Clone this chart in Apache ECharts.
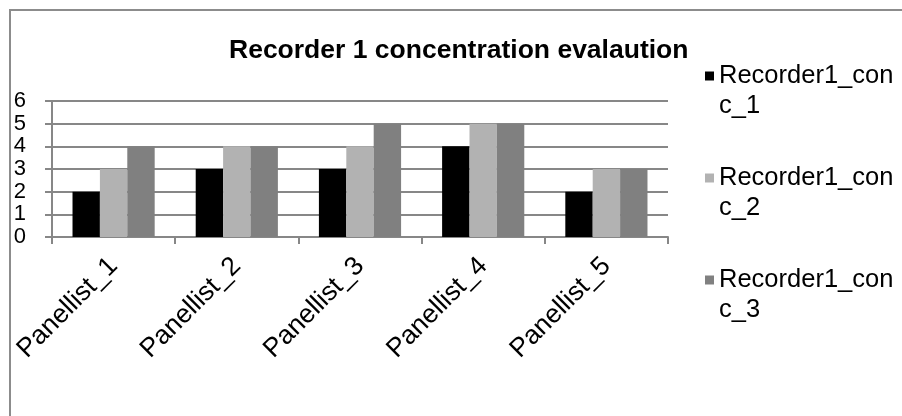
<!DOCTYPE html>
<html>
<head>
<meta charset="utf-8">
<script src="https://cdn.jsdelivr.net/npm/echarts@6/dist/echarts.min.js"></script>
<style>
  html, body { margin: 0; padding: 0; background: #fff; }
  #chart { width: 902px; height: 416px; }
</style>
</head>
<body>
<div id="chart"></div>
<script>
// Panellist scores per recorder concentration
const categories = ['Panellist_1', 'Panellist_2', 'Panellist_3', 'Panellist_4', 'Panellist_5'];
const seriesNames = ['Recorder1_conc_1', 'Recorder1_conc_2', 'Recorder1_conc_3'];
const conc1 = [2, 3, 3, 4, 2];
const conc2 = [3, 4, 4, 5, 3];
const conc3 = [4, 4, 5, 5, 3];
const yTicks = [0, 1, 2, 3, 4, 5, 6];

const colors = ['#000000', '#b2b2b2', '#808080'];
const font = 'Liberation Sans, Arial, sans-serif';
const values = [conc1, conc2, conc3];

const chart = echarts.init(document.getElementById('chart'), null, { renderer: 'canvas' });

chart.setOption({
  animation: false,
  backgroundColor: '#ffffff',
  color: colors,
  title: {
    text: 'Recorder 1 concentration evalaution',
    left: 229,
    top: 37,
    padding: 0,
    textStyle: { fontFamily: font, fontSize: 26.5, fontWeight: 'bold', color: '#000' }
  },
  legend: {
    orient: 'vertical',
    left: 705,
    top: 31,
    padding: 0,
    itemWidth: 9,
    itemHeight: 9,
    itemGap: 12,
    icon: 'rect',
    // wrap each name over two lines; the leading blank line keeps the
    // square marker level with the first line of text
    formatter: name => '\n' + name.slice(0, 13) + '\n' + name.slice(13),
    textStyle: { fontFamily: font, fontSize: 25.5, color: '#000', lineHeight: 30 }
  },
  grid: { left: 52, right: 234, top: 101, bottom: 179, containLabel: false },
  xAxis: {
    type: 'category',
    data: categories,
    axisLine: { lineStyle: { color: '#878787', width: 2 } },
    axisTick: { show: true, length: 7, lineStyle: { color: '#878787', width: 2 } },
    axisLabel: {
      rotate: 45,
      margin: 25,
      fontFamily: font,
      fontSize: 26.5,
      color: '#000'
    }
  },
  yAxis: {
    type: 'value',
    min: yTicks[0],
    max: yTicks[yTicks.length - 1],
    interval: 1,
    axisLine: { show: true, lineStyle: { color: '#878787', width: 2 } },
    axisTick: { show: true, length: 7, lineStyle: { color: '#878787', width: 2 } },
    splitLine: { show: true, lineStyle: { color: '#878787', width: 2 } },
    axisLabel: {
      margin: 26,
      fontFamily: font,
      fontSize: 22,
      lineHeight: 20,
      color: '#000',
      showMinLabel: true,
      showMaxLabel: true,
      hideOverlap: false
    }
  },
  series: seriesNames.map((name, i) => ({
    name: name,
    type: 'bar',
    data: values[i],
    barGap: '0%',
    barCategoryGap: '33.3%',
    itemStyle: { color: colors[i] }
  })),
  graphic: [{
    type: 'rect',
    shape: { x: 10, y: 10, width: 1000, height: 1000 },
    style: { fill: 'none', stroke: '#8c8c8c', lineWidth: 2 },
    silent: true,
    z: 100
  }]
});
</script>
</body>
</html>
